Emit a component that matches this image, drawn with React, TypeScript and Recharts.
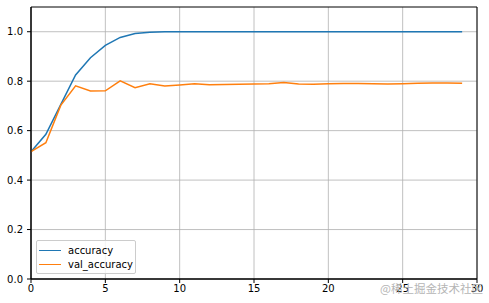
import { LineChart, Line, XAxis, YAxis, CartesianGrid, ReferenceArea } from 'recharts';

const epochs = Array.from({ length: 30 }, (_, i) => i);

const accuracy = [
  0.515, 0.585, 0.705, 0.825, 0.895, 0.945, 0.977, 0.993, 0.998, 1.0,
  1.0, 1.0, 1.0, 1.0, 1.0, 1.0, 1.0, 1.0, 1.0, 1.0,
  1.0, 1.0, 1.0, 1.0, 1.0, 1.0, 1.0, 1.0, 1.0, 1.0,
];

const valAccuracy = [
  0.515, 0.551, 0.702, 0.781, 0.76, 0.761, 0.801, 0.774, 0.79, 0.781,
  0.785, 0.79, 0.786, 0.787, 0.788, 0.789, 0.79, 0.795, 0.789, 0.788,
  0.79, 0.791, 0.791, 0.79, 0.789, 0.79, 0.792, 0.793, 0.793, 0.792,
];

const xTicks = [0, 5, 10, 15, 20, 25, 30];
const yTicks = [0, 0.2, 0.4, 0.6, 0.8, 1.0];

const BLUE = '#1f77b4';
const ORANGE = '#ff7f0e';
const FONT = 'DejaVu Sans, sans-serif';

const data = epochs.map((e, i) => ({ epoch: e, accuracy: accuracy[i], val_accuracy: valAccuracy[i] }));

const legendItems = [
  { name: 'accuracy', color: BLUE },
  { name: 'val_accuracy', color: ORANGE },
];

function LegendBox() {
  return (
    <div
      style={{
        position: 'absolute',
        left: 36,
        top: 240,
        border: '1px solid #cccccc',
        borderRadius: 2,
        background: 'rgba(255,255,255,0.8)',
        width: 100,
        height: 34,
        boxSizing: 'border-box',
        padding: '2px 0 0 2px',
        fontFamily: FONT,
        fontSize: 10,
        color: '#000',
      }}
    >
      {legendItems.map((it) => (
        <div key={it.name} style={{ display: 'flex', alignItems: 'center', height: 13, marginTop: 1, marginBottom: 1 }}>
          <span style={{ display: 'inline-block', width: 22, height: 0, borderTop: `1.5px solid ${it.color}`, marginRight: 7 }} />
          <span>{it.name}</span>
        </div>
      ))}
    </div>
  );
}

export default function App() {
  return (
    <div style={{ position: 'absolute', left: 0, top: 0, width: 489, height: 303, background: '#fff', overflow: 'hidden' }}>
      <LineChart width={489} height={303} data={data} margin={{ top: 7, right: 12, left: 0, bottom: 0 }}>
        <CartesianGrid stroke="#b0b0b0" strokeWidth={0.8} verticalValues={xTicks} horizontalValues={yTicks} />
        <XAxis
          dataKey="epoch"
          type="number"
          domain={[0, 30]}
          ticks={xTicks}
          height={24}
          tickSize={4}
          tickMargin={2}
          tick={{ fill: '#000', fontSize: 10, fontFamily: FONT }}
          axisLine={{ stroke: '#000', strokeWidth: 1 }}
          tickLine={{ stroke: '#000' }}
        />
        <YAxis
          type="number"
          domain={[0, 1.1]}
          ticks={yTicks}
          width={31}
          tickSize={4}
          tickMargin={4}
          tickFormatter={(v: number) => v.toFixed(1)}
          tick={{ fill: '#000', fontSize: 10, fontFamily: FONT }}
          axisLine={{ stroke: '#000', strokeWidth: 1 }}
          tickLine={{ stroke: '#000' }}
        />
        <ReferenceArea x1={0} x2={30} y1={0} y2={1.1} fill="none" stroke="#000" strokeWidth={1} />
        <Line type="linear" dataKey="accuracy" stroke={BLUE} strokeWidth={1.5} dot={false} isAnimationActive={false} />
        <Line type="linear" dataKey="val_accuracy" stroke={ORANGE} strokeWidth={1.5} dot={false} isAnimationActive={false} />
      </LineChart>
      <LegendBox />
      <div
        style={{
          position: 'absolute',
          right: 6,
          top: 280,
          fontFamily: 'Noto Sans CJK SC, sans-serif',
          fontSize: 11.5,
          color: '#b5b5b5',
          whiteSpace: 'nowrap',
        }}
      >
        @稀土掘金技术社区
      </div>
    </div>
  );
}
